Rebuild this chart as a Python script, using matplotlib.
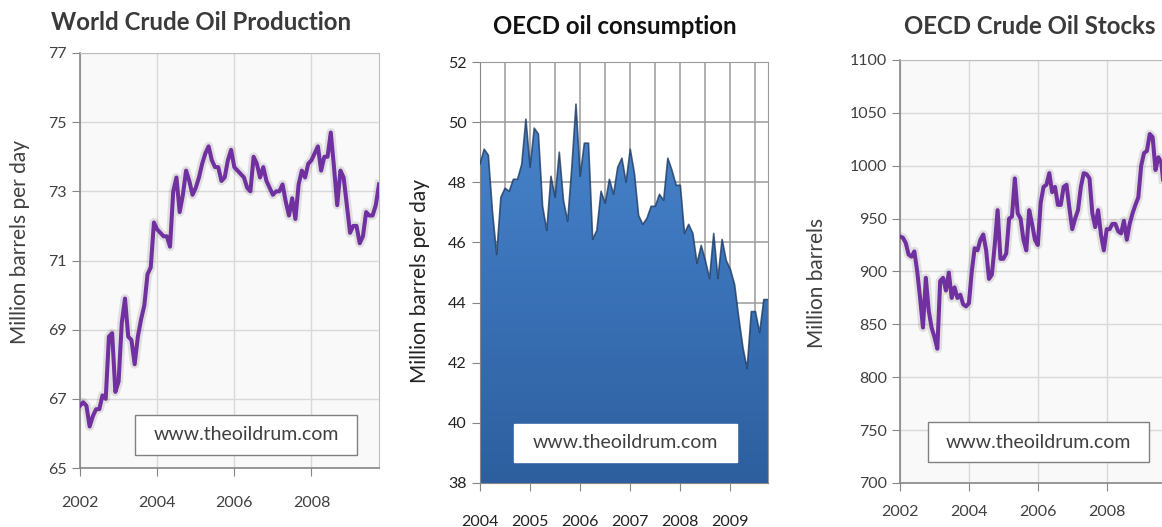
import numpy as np
import matplotlib
matplotlib.use('Agg')
import matplotlib.pyplot as plt
import matplotlib.patches as patches
from matplotlib.colors import LinearSegmentedColormap

plt.rcParams['font.family'] = ['Lato', 'DejaVu Sans']

# world crude oil production, monthly from Jan 2002 (million barrels per day)
prod_start = 2002
production = [66.8, 66.9, 66.8, 66.2, 66.5, 66.7, 66.7, 67.1, 67.0, 68.8, 68.9, 67.2,
              67.5, 69.2, 69.9, 68.8, 68.7, 68.0, 68.8, 69.3, 69.7, 70.6, 70.8, 72.1,
              71.9, 71.8, 71.7, 71.7, 71.4, 73.0, 73.4, 72.4, 72.9, 73.6, 73.3, 72.9,
              73.1, 73.4, 73.8, 74.1, 74.3, 73.9, 73.7, 73.7, 73.3, 73.4, 73.9, 74.2,
              73.7, 73.6, 73.5, 73.4, 73.1, 73.0, 74.0, 73.8, 73.4, 73.7, 73.3, 73.1,
              72.9, 73.0, 73.0, 73.2, 72.7, 72.3, 72.8, 72.2, 73.2, 73.6, 73.4, 73.8,
              73.9, 74.1, 74.3, 73.6, 74.0, 74.0, 74.7, 73.7, 72.6, 73.6, 73.4, 72.6,
              71.8, 72.0, 72.0, 71.5, 71.7, 72.4, 72.3, 72.3, 72.6, 73.2]

# OECD oil consumption, monthly from Jan 2004 (million barrels per day)
cons_start = 2004
consumption = [48.6, 49.1, 48.9, 47.0, 45.6, 47.5, 47.8, 47.7, 48.1, 48.1, 48.6, 50.1,
               48.5, 49.8, 49.6, 47.2, 46.4, 48.2, 47.5, 49.0, 47.4, 46.7, 48.5, 50.6,
               48.2, 49.3, 49.3, 46.1, 46.4, 47.7, 47.3, 48.1, 47.6, 48.5, 48.8, 48.0,
               49.1, 48.3, 46.9, 46.6, 46.8, 47.2, 47.2, 47.6, 47.4, 48.8, 48.4, 47.9,
               47.9, 46.3, 46.6, 46.3, 45.3, 45.9, 45.4, 44.8, 46.3, 44.8, 46.1, 45.4,
               45.1, 44.6, 43.5, 42.5, 41.8, 43.7, 43.7, 43.0, 44.1, 44.1]

# OECD crude oil stocks, monthly from Jan 2002 (million barrels)
stock_start = 2002
stocks = [933, 932, 927, 916, 914, 919, 900, 875, 847, 894, 863, 847,
          838, 827, 891, 894, 882, 899, 875, 885, 875, 878, 869, 867,
          870, 900, 922, 920, 930, 935, 920, 893, 897, 925, 958, 912,
          912, 917, 950, 952, 988, 955, 950, 930, 920, 958, 945, 930,
          925, 965, 980, 982, 993, 975, 980, 963, 963, 980, 982, 960,
          940, 950, 958, 980, 993, 992, 988, 955, 942, 958, 935, 920,
          940, 940, 945, 945, 938, 936, 948, 930, 945, 955, 963, 970,
          1000, 1012, 1014, 1030, 1027, 996, 1008, 1003, 977]

prod_ticks = [2002, 2004, 2006, 2008]
cons_ticks = [2004, 2005, 2006, 2007, 2008, 2009]
stock_ticks = [2002, 2004, 2006, 2008]

purple = '#7030a0'
W, H = 1162, 527


def months(start, vals):
    return start + np.arange(len(vals)) / 12.0


def line_panel(ax, x, y, xlim, ylim, yticks, xticks, xpad):
    ax.set_facecolor('#f9f9f9')
    ax.plot(x, y, color='#000000', lw=6.5, alpha=0.10, solid_joinstyle='round', zorder=2)
    ax.plot(x, y, color=purple, lw=2.9, solid_joinstyle='round', zorder=3)
    ax.set_xlim(*xlim)
    ax.set_ylim(*ylim)
    ax.set_yticks(yticks)
    ax.set_xticks(xticks)
    ax.grid(True, color='#d9d9d9', lw=1)
    ax.set_axisbelow(True)
    for s in ['left', 'bottom']:
        ax.spines[s].set_color('#868686')
        ax.spines[s].set_linewidth(1.2)
    for s in ['top', 'right']:
        ax.spines[s].set_color('#bdbdbd')
    ax.tick_params(colors='#868686', labelcolor='#404040', labelsize=11.5, length=6)
    ax.tick_params(axis='x', pad=xpad)


def watermark(cx, cy, w, h, edge):
    r = patches.Rectangle(((cx - w / 2) / W, 1 - (cy + h / 2) / H), w / W, h / H,
                          transform=fig.transFigure, facecolor='white',
                          edgecolor=edge, lw=1, zorder=5)
    fig.patches.append(r)
    fig.text(cx / W, 1 - cy / H, 'www.theoildrum.com', ha='center', va='center',
             fontsize=14, color='#404040', zorder=6)


fig = plt.figure(figsize=(W / 100, H / 100), dpi=100)

# panel 1
ax1 = fig.add_axes([80 / W, 1 - 468 / H, 299 / W, 415 / H])
line_panel(ax1, months(prod_start, production), production,
           (2002, 2009.75), (65, 77), np.arange(65, 78, 2), prod_ticks, 14)
fig.text(201 / W, 1 - 22 / H, 'World Crude Oil Production', ha='center', va='center',
         fontsize=17.3, fontweight='bold', color='#3a3a3a')
fig.text(20 / W, 1 - 242 / H, 'Million barrels per day', rotation=90, ha='center',
         va='center', fontsize=15, color='#404040')
watermark(246, 435, 222, 40, '#808080')

# panel 2
ax2 = fig.add_axes([480 / W, 1 - 483 / H, 288 / W, 421 / H])
xc = months(cons_start, consumption)
ax2.set_xlim(2004, xc[-1])
ax2.set_ylim(38, 52)
ax2.set_yticks(np.arange(38, 53, 2))
ax2.set_xticks(cons_ticks)
ax2.set_xticks(np.arange(2004.5, 2010, 1), minor=True)
ax2.grid(True, which='both', color='#9a9a9a', lw=1.1)
ax2.set_axisbelow(True)
ax2.tick_params(which='minor', length=0)
ax2.tick_params(which='major', colors='#868686', labelcolor='#222222', labelsize=11.5, length=6)
ax2.tick_params(axis='x', pad=17)
for s in ax2.spines.values():
    s.set_color('#9a9a9a')
ax2.spines['left'].set_color('#868686')
ax2.spines['bottom'].set_color('#868686')
poly = ax2.fill_between(xc, consumption, 38, color='none', zorder=2)
blue_map = LinearSegmentedColormap.from_list('oilblue', ['#2d5f9e', '#3a72b8', '#4a86cc'])
grad = np.linspace(0, 1, 256).reshape(-1, 1)
im = ax2.imshow(grad, cmap=blue_map, aspect='auto', origin='lower',
                extent=(2004, xc[-1], 38, 51), zorder=2)
im.set_clip_path(poly.get_paths()[0], transform=ax2.transData)
ax2.set_ylim(38, 52)
ax2.plot(xc, consumption, color='#1e3b63', lw=1.2, alpha=0.8, zorder=3)
fig.text(615 / W, 1 - 27 / H, 'OECD oil consumption', ha='center', va='center',
         fontsize=17.3, fontweight='bold', color='#111111')
fig.text(420 / W, 1 - 281 / H, 'Million barrels per day', rotation=90, ha='center',
         va='center', fontsize=15, color='#222222')
watermark(625, 443, 223, 38, 'white')

# panel 3
ax3 = fig.add_axes([900 / W, 1 - 483 / H, 267 / W, 423 / H])
line_panel(ax3, months(stock_start, stocks), stocks,
           (2002, 2009.75), (700, 1100), np.arange(700, 1101, 50), stock_ticks, 10)
fig.text(1030 / W, 1 - 27 / H, 'OECD Crude Oil Stocks', ha='center', va='center',
         fontsize=17.3, fontweight='bold', color='#3a3a3a')
fig.text(817 / W, 1 - 283 / H, 'Million barrels', rotation=90, ha='center',
         va='center', fontsize=15, color='#404040')
watermark(1038, 442, 221, 40, '#808080')

fig.savefig('out.png', dpi=100, facecolor='white')
